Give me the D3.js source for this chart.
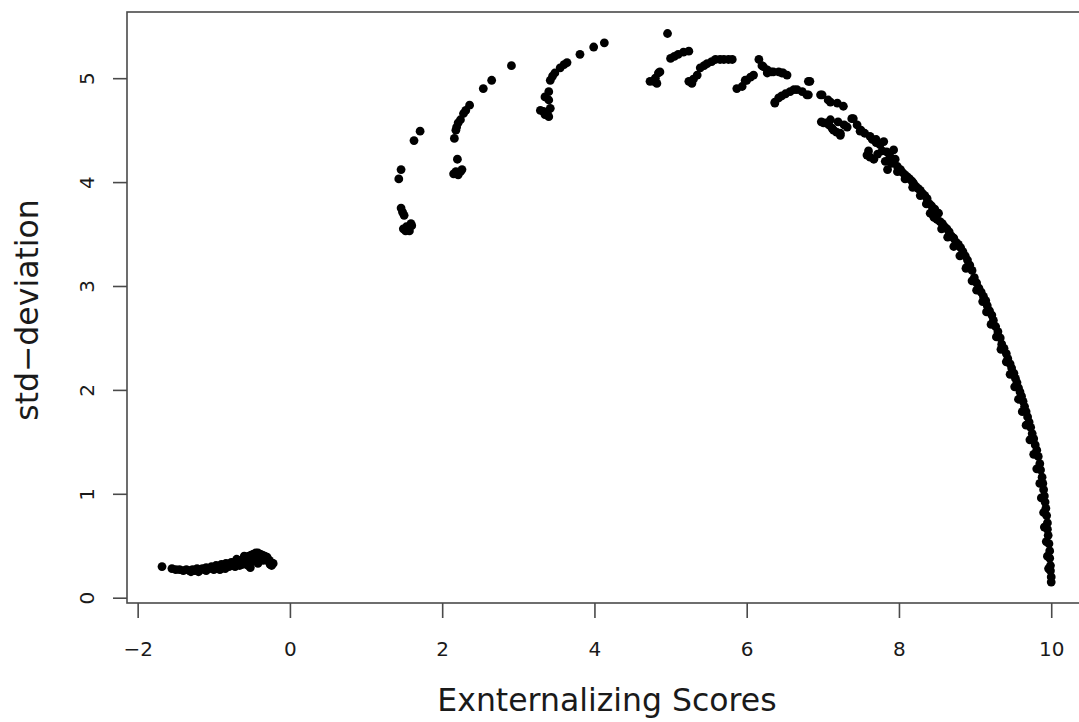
<!DOCTYPE html>
<html>
<head>
<meta charset="utf-8">
<script src="https://cdn.jsdelivr.net/npm/d3@7"></script>
<style>
  body { margin: 0; background: #fff; }
  svg text { font-family: "DejaVu Sans", "Liberation Sans", sans-serif; }
</style>
</head>
<body>
<svg id="chart" width="1079" height="722"></svg>
<script>
// tick values
const xTicks = [-2, 0, 2, 4, 6, 8, 10];
const yTicks = [0, 1, 2, 3, 4, 5];

// [score, sd] pairs, one array per cluster
const lowCluster = [
  [-1.68,0.30],[-1.55,0.28],[-1.50,0.27],[-1.45,0.27],[-1.40,0.26],[-1.36,0.27],[-1.32,0.26],
  [-1.28,0.27],[-1.25,0.26],[-1.22,0.28],[-1.18,0.27],[-1.15,0.28],[-1.12,0.27],[-1.10,0.29],
  [-1.06,0.28],[-1.03,0.30],[-1.00,0.29],[-0.97,0.31],[-0.94,0.30],[-0.90,0.32],[-0.87,0.31],
  [-0.84,0.33],[-0.80,0.32],[-0.77,0.34],[-0.74,0.33],[-0.71,0.35],[-0.68,0.36],[-0.65,0.35],
  [-0.62,0.37],[-0.60,0.38],[-0.57,0.39],[-0.54,0.40],[-0.51,0.41],[-0.48,0.42],[-0.45,0.43],
  [-0.42,0.43],[-0.39,0.42],[-0.36,0.41],[-0.33,0.40],[-0.30,0.38],[-0.27,0.36],[-0.25,0.34],
  [-1.30,0.25],[-1.20,0.25],[-1.10,0.26],[-0.95,0.28],[-0.85,0.29],[-0.75,0.31],[-0.65,0.32],
  [-0.55,0.31],[-0.52,0.29],[-0.40,0.36],[-0.42,0.33],[-0.22,0.33],[-0.30,0.39],
  [-1.00,0.27],[-0.92,0.27],[-0.85,0.28],[-0.80,0.30],[-0.72,0.30],[-0.70,0.37],[-0.66,0.31],
  [-0.62,0.32],[-0.58,0.33],[-0.60,0.40],[-0.55,0.36],[-0.50,0.35],[-0.48,0.38],[-0.46,0.36],
  [-0.44,0.40],[-0.38,0.39],[-0.35,0.36],[-0.32,0.37],[-0.28,0.35],[-0.26,0.32],[-0.24,0.31]
];
const arcOne = [
  [1.43,4.03],[1.46,4.12],[1.63,4.40],[1.71,4.49],
  [1.46,3.75],[1.48,3.71],[1.50,3.68],[1.53,3.57],[1.59,3.60],[1.49,3.55],[1.57,3.53],
  [1.60,3.58],[1.55,3.55],[1.52,3.53]
];
const arcTwo = [
  [2.20,4.22],[2.18,4.10],[2.26,4.12],[2.15,4.08],[2.21,4.07],[2.24,4.10],
  [2.16,4.42],[2.18,4.50],[2.21,4.57],[2.24,4.60],[2.28,4.66],[2.31,4.69],[2.36,4.74],[2.19,4.53],
  [2.54,4.90],[2.65,4.98],[2.91,5.12]
];
const arcThree = [
  [3.29,4.69],[3.35,4.65],[3.42,4.71],[3.40,4.63],[3.33,4.68],[3.38,4.67],
  [3.35,4.82],[3.40,4.79],[3.40,4.87],[3.42,4.98],[3.45,5.02],[3.48,5.05],[3.55,5.10],
  [3.60,5.13],[3.64,5.15],[3.81,5.23],[3.99,5.30],[4.13,5.34]
];
const arcFour = [
  [4.96,5.43],
  [4.73,4.97],[4.78,4.97],[4.82,4.95],[4.80,5.00],[4.84,5.05],[4.86,5.06],
  [5.00,5.19],[5.05,5.21],[5.10,5.23],[5.17,5.25],[5.24,5.26]
];
const arcFive = [
  [5.24,4.97],[5.28,4.95],[5.30,4.99],[5.35,5.03],[5.39,5.10],[5.44,5.12],[5.48,5.14],
  [5.54,5.16],[5.59,5.18],[5.65,5.18],[5.70,5.18],[5.76,5.18],[5.81,5.18]
];
const arcSix = [
  [5.87,4.90],[5.94,4.92],[5.98,4.98],[6.00,4.98],[6.05,5.01],[6.09,5.03],[6.16,5.18],
  [6.20,5.12],[6.22,5.11],[6.27,5.08],[6.27,5.05],[6.32,5.06],[6.35,5.06],[6.42,5.06],
  [6.46,5.05],[6.48,5.05],[6.53,5.03]
];
const arcSeven = [
  [6.37,4.76],[6.37,4.77],[6.42,4.81],[6.46,4.83],[6.51,4.85],[6.57,4.87],[6.62,4.89],
  [6.66,4.89],[6.73,4.87],[6.79,4.84],[6.81,4.84],[6.81,4.97],[6.83,4.97],[6.97,4.84],
  [6.99,4.84],[7.07,4.79],[7.10,4.77],[7.19,4.76],[7.27,4.73]
];
const knot = [
  [7.01,4.57],[6.98,4.58],[7.05,4.57],[7.08,4.55],[7.12,4.52],[7.14,4.50],[7.18,4.48],
  [7.23,4.45],[7.23,4.47],[7.10,4.60],[7.20,4.58],[7.28,4.55],[7.32,4.53],[7.38,4.61],[7.40,4.61]
];
const tail = [
  [7.45,4.55],[7.50,4.50],[7.49,4.49],[7.55,4.47],[7.58,4.26],[7.60,4.30],[7.62,4.24],[7.62,4.44],
  [7.65,4.41],[7.67,4.22],[7.70,4.38],[7.70,4.41],[7.72,4.27],[7.75,4.36],[7.78,4.30],[7.80,4.39],
  [7.82,4.20],[7.84,4.29],[7.85,4.12],[7.88,4.25],[7.90,4.18],[7.93,4.31],[7.95,4.22],[7.98,4.15],
  [8.02,4.12],[8.05,4.09],[8.08,4.07],[8.11,4.05],[8.14,4.03],[8.17,4.01],[8.19,3.99],[8.22,3.96],
  [8.25,3.94],[8.28,3.92],[8.31,3.89],[8.34,3.87],[8.37,3.84],[8.40,3.79],[8.41,3.70],[8.43,3.77],
  [8.45,3.68],[8.47,3.74],[8.50,3.64],[8.52,3.70],[8.54,3.62],[8.57,3.60],[8.60,3.57],[8.63,3.55],
  [8.66,3.52],[8.69,3.48],[8.72,3.46],[8.75,3.42],[8.78,3.40],[8.81,3.37],[8.84,3.33],[8.87,3.29],
  [8.89,3.18],[8.90,3.25],[8.93,3.20],[8.96,3.15],[8.99,3.08],[9.02,3.03],[9.05,2.98],[9.08,2.94],
  [9.11,2.90],[9.14,2.86],[9.16,2.81],[9.19,2.76],[9.22,2.72],[9.24,2.67],[9.27,2.61],[9.30,2.56],
  [9.33,2.50],[9.35,2.44],[9.38,2.40],[9.41,2.35],[9.43,2.30],[9.46,2.25],[9.48,2.21],[9.51,2.16],
  [9.53,2.11],[9.55,2.07],[9.57,2.02],[9.59,1.98],[9.61,1.94],[9.63,1.89],[9.65,1.84],[9.67,1.79],
  [9.69,1.74],[9.71,1.69],[9.73,1.64],[9.75,1.58],[9.77,1.53],[9.79,1.47],[9.81,1.42],[9.83,1.36],
  [9.85,1.29],[9.86,1.23],[9.88,1.16],[9.89,1.10],[9.90,1.04],[9.91,0.98],[9.92,0.92],[9.93,0.86],
  [9.94,0.79],[9.95,0.72],[9.95,0.66],[9.96,0.60],[9.97,0.52],[9.98,0.45],[9.98,0.38],[9.99,0.31],
  [9.99,0.26],[10.00,0.20],[10.00,0.15]
];
// points on the inner side of the tail band, which makes it thicker than one dot
const tailInner = [
  [7.98,4.10],[8.08,4.03],[8.18,3.95],[8.28,3.87],[8.36,3.79],[8.46,3.66],[8.56,3.55],[8.64,3.47],
  [8.72,3.38],[8.80,3.29],[8.88,3.17],[8.96,3.05],[9.02,2.96],[9.10,2.85],[9.15,2.75],[9.21,2.63],
  [9.28,2.51],[9.34,2.39],[9.41,2.27],[9.46,2.15],[9.52,2.03],[9.57,1.91],[9.62,1.79],[9.67,1.66],
  [9.72,1.52],[9.77,1.38],[9.81,1.24],[9.85,1.10],[9.87,0.96],[9.90,0.82],[9.91,0.68],[9.935,0.54],
  [9.95,0.40],[9.965,0.28]
];

const allPoints = [].concat(lowCluster, arcOne, arcTwo, arcThree, arcFour, arcFive,
  arcSix, arcSeven, knot, tail, tailInner);

const svg = d3.select("#chart");

// plot region as R leaves it (4% padding around the data), right edge runs off the page
const x = d3.scaleLinear().domain([-2.14, 10.47]).range([127, 1087]);
const y = d3.scaleLinear().domain([-0.051, 5.637]).range([603, 12]);

const axisColor = "#4a4a4a";

// points
svg.append("g")
  .selectAll("circle")
  .data(allPoints)
  .enter()
  .append("circle")
  .attr("cx", d => x(d[0]))
  .attr("cy", d => y(d[1]))
  .attr("r", 4.4)
  .attr("fill", "#000");

// box
svg.append("rect")
  .attr("x", x.range()[0])
  .attr("y", y.range()[1])
  .attr("width", x.range()[1] - x.range()[0])
  .attr("height", y.range()[0] - y.range()[1])
  .attr("fill", "none")
  .attr("stroke", axisColor)
  .attr("stroke-width", 1.6);

// x axis
const xAxis = svg.append("g")
  .attr("transform", `translate(0, ${y.range()[0]})`)
  .call(d3.axisBottom(x)
    .tickValues(xTicks)
    .tickSize(15)
    .tickFormat(d => d < 0 ? "\u2212" + Math.abs(d) : String(d)));
xAxis.select(".domain").remove();
xAxis.attr("font-family", null).attr("font-size", 20).attr("color", "#1a1a1a");
xAxis.selectAll("line").attr("stroke", axisColor).attr("stroke-width", 1.6);
xAxis.selectAll("text").attr("y", 53).attr("dy", 0);

// y axis
const yAxis = svg.append("g")
  .attr("transform", `translate(${x.range()[0]}, 0)`)
  .call(d3.axisLeft(y).tickValues(yTicks).tickSize(14).tickFormat(d3.format("d")));
yAxis.select(".domain").remove();
yAxis.attr("font-family", null).attr("font-size", 20).attr("color", "#1a1a1a");
yAxis.selectAll("line").attr("stroke", axisColor).attr("stroke-width", 1.6);
yAxis.selectAll("text")
  .attr("x", 0)
  .attr("dy", 0)
  .attr("text-anchor", "middle")
  .attr("transform", "translate(-33, 0) rotate(-90)");

// axis titles
svg.append("text")
  .attr("x", 607)
  .attr("y", 711)
  .attr("text-anchor", "middle")
  .attr("font-size", 31.5)
  .attr("fill", "#1a1a1a")
  .text("Exnternalizing Scores");

svg.append("text")
  .attr("transform", "translate(38, 310) rotate(-90)")
  .attr("text-anchor", "middle")
  .attr("font-size", 31.5)
  .attr("fill", "#1a1a1a")
  .text("std\u2212deviation");
</script>
</body>
</html>
